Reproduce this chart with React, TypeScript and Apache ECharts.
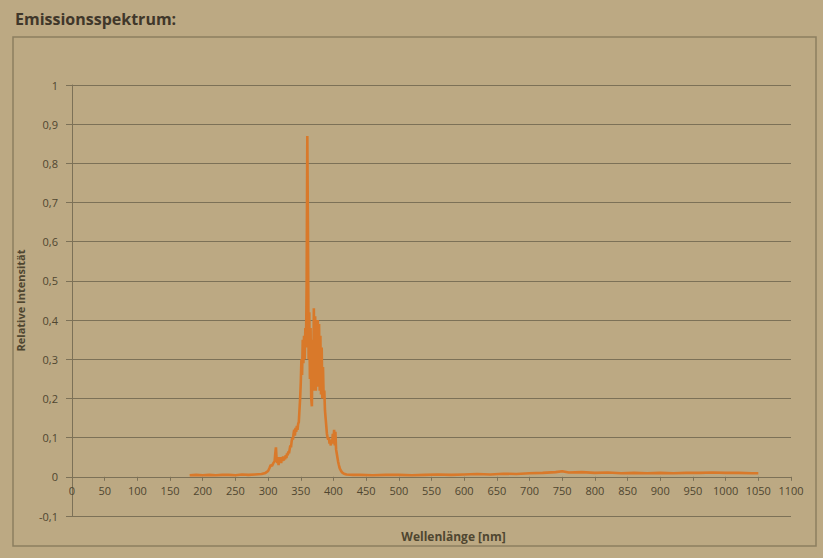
import React, { useEffect, useRef } from "react";
import * as echarts from "echarts";

// Wellenlänge [nm]
const wavelengths: number[] = [
  180, 190, 200, 210, 220, 230, 240, 250, 260, 270, 280, 290, 296,
  300, 302, 304, 306, 308, 310, 311, 312, 313, 314, 315, 316, 317, 318, 319,
  320, 321, 322, 323, 324, 325, 326, 327, 328, 329, 330, 331, 332, 333, 334,
  335, 336, 337, 338, 339, 340, 341, 342, 343, 344, 345, 346, 347, 348, 349,
  350, 351, 352, 353, 354, 355, 356, 357, 358, 359, 360, 361, 362, 363, 364,
  365, 366, 367, 368, 369, 370, 371, 372, 373, 374, 375, 376, 377, 378, 379,
  380, 381, 382, 383, 384, 385, 386, 387, 388, 389, 390, 391, 392, 393, 394,
  395, 396, 397, 398, 399, 400, 401, 402, 403, 404, 405, 406, 407, 408, 409,
  410, 412, 414, 416, 420, 430,
  440, 460, 480, 500, 520, 540, 560, 580, 600, 620, 640, 660, 680, 700, 720,
  740, 750, 760, 780, 800, 820, 840, 860, 880, 900, 920, 940, 960, 980, 1000,
  1020, 1040, 1050,
];

// Relative Intensität
const intensities: number[] = [
  0.004, 0.005, 0.004, 0.005, 0.004, 0.005, 0.005, 0.004, 0.006, 0.005, 0.006, 0.007, 0.01,
  0.015, 0.022, 0.03, 0.028, 0.035, 0.04, 0.06, 0.075, 0.045, 0.035, 0.05, 0.03, 0.045, 0.038, 0.05,
  0.035, 0.048, 0.04, 0.052, 0.042, 0.05, 0.045, 0.055, 0.048, 0.06, 0.055, 0.065, 0.06, 0.07, 0.08,
  0.075, 0.09, 0.1, 0.095, 0.11, 0.12, 0.105, 0.125, 0.115, 0.13, 0.12, 0.135, 0.14, 0.17, 0.2,
  0.24, 0.3, 0.26, 0.35, 0.29, 0.36, 0.3, 0.38, 0.33, 0.5, 0.87, 0.62, 0.3, 0.42, 0.25,
  0.38, 0.2, 0.18, 0.35, 0.22, 0.43, 0.25, 0.41, 0.22, 0.38, 0.24, 0.4, 0.23, 0.39, 0.22,
  0.36, 0.21, 0.33, 0.2, 0.28, 0.2, 0.22, 0.17, 0.15, 0.13, 0.11, 0.1, 0.095, 0.1, 0.085,
  0.09, 0.08, 0.095, 0.085, 0.11, 0.09, 0.12, 0.08, 0.115, 0.07, 0.06, 0.05, 0.04, 0.032, 0.025,
  0.02, 0.014, 0.01, 0.008, 0.006, 0.005,
  0.005, 0.004, 0.005, 0.005, 0.004, 0.005, 0.006, 0.005, 0.006, 0.007, 0.006, 0.008, 0.007, 0.009, 0.01,
  0.012, 0.014, 0.011, 0.012, 0.01, 0.011, 0.009, 0.01, 0.009, 0.01, 0.009, 0.01, 0.01, 0.011, 0.01,
  0.01, 0.009, 0.009,
];

const TITLE = "Emissionsspektrum:";
const X_NAME = "Wellenlänge [nm]";
const Y_NAME = "Relative Intensität";

const BG = "#bca983";
const TEXT = "#4f4630";
const GRID = "#7c7157";
const LINE = "#d9792a";

const Y_MIN = -0.1;
const Y_MAX = 1;

// Plot box
const GRID_TOP = 85;
const GRID_BOTTOM = 42;
const CHART_H = 558;

const fmtDe = (v: number) => String(Math.round(v * 10) / 10).replace(".", ",");

export default function App() {
  const ref = useRef<HTMLDivElement>(null);

  useEffect(() => {
    if (!ref.current) return;
    const chart = echarts.init(ref.current, null, { renderer: "svg" });
    const points = wavelengths.map((w, i) => [w, intensities[i]]);

    // Lift the x axis from the bottom edge up to the y = 0 line
    const plotH = CHART_H - GRID_TOP - GRID_BOTTOM;
    const zeroOffset = -(plotH * (0 - Y_MIN)) / (Y_MAX - Y_MIN);

    chart.setOption({
      animation: false,
      backgroundColor: BG,
      textStyle: { fontFamily: "Open Sans, sans-serif" },
      title: {
        text: TITLE,
        left: 10,
        top: 6,
        textStyle: { fontSize: 16, fontWeight: "bold", color: "#40372a" },
      },
      graphic: [
        {
          type: "rect",
          shape: { x: 13, y: 37, width: 803, height: 509 },
          style: { fill: "none", stroke: "#8c7f60", lineWidth: 1.5 },
          silent: true,
        },
      ],
      grid: {
        left: 72,
        right: 32,
        top: GRID_TOP,
        bottom: GRID_BOTTOM,
        containLabel: false,
        outerBoundsMode: "none",
      },
      xAxis: {
        type: "value",
        min: 0,
        max: 1100,
        interval: 50,
        position: "bottom",
        offset: zeroOffset,
        name: X_NAME,
        nameLocation: "middle",
        nameGap: 54,
        nameTextStyle: {
          fontSize: 12,
          fontWeight: "bold",
          color: TEXT,
          padding: [0, 0, 0, 44],
        },
        axisLine: { onZero: false, lineStyle: { color: GRID, width: 1 } },
        axisTick: { show: true, length: 4, lineStyle: { color: GRID } },
        axisLabel: {
          color: TEXT,
          fontSize: 11,
          margin: 8,
          formatter: (v: number) => String(v),
        },
        splitLine: { show: false },
      },
      yAxis: {
        type: "value",
        min: Y_MIN,
        max: Y_MAX,
        interval: 0.1,
        name: Y_NAME,
        nameLocation: "middle",
        nameGap: 46,
        nameRotate: 90,
        nameTextStyle: { fontSize: 11, fontWeight: "bold", color: TEXT },
        axisLine: { show: true, onZero: false, lineStyle: { color: GRID, width: 1 } },
        axisTick: { show: true, length: 6, lineStyle: { color: GRID } },
        axisLabel: { color: TEXT, fontSize: 11, margin: 14, formatter: fmtDe },
        splitLine: { show: true, lineStyle: { color: GRID, width: 1 } },
      },
      series: [
        {
          type: "line",
          data: points,
          showSymbol: false,
          symbol: "none",
          lineStyle: { color: LINE, width: 2.6 },
          itemStyle: { color: LINE },
        },
      ],
    });

    return () => chart.dispose();
  }, []);

  return (
    <div
      ref={ref}
      style={{ position: "fixed", left: 0, top: 0, width: 823, height: 558 }}
    />
  );
}
